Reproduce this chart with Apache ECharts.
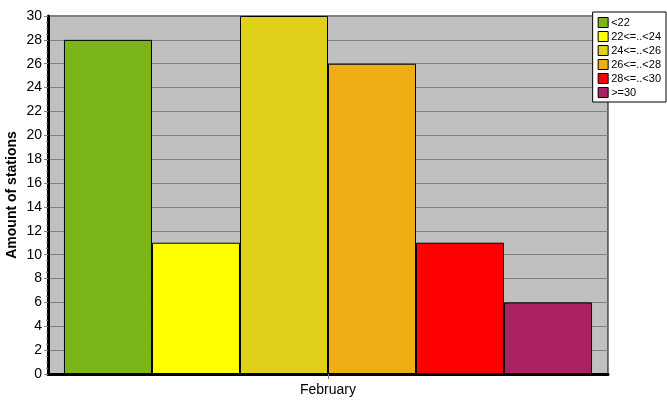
<!DOCTYPE html>
<html>
<head>
<meta charset="utf-8">
<script src="https://cdn.jsdelivr.net/npm/echarts@6/dist/echarts.min.js"></script>
<style>
  html, body { margin: 0; padding: 0; background: #fff; }
  #main { width: 667px; height: 415px; }
</style>
</head>
<body>
<div id="main"></div>
<script>
const categories = ["February"];
const seriesNames = ["<22", "22<=..<24", "24<=..<26", "26<=..<28", "28<=..<30", ">=30"];
const seriesValues = [[28], [11], [30], [26], [11], [6]];
const colors = ["#7CB518", "#FFFF00", "#E0D01A", "#EFAF14", "#FF0000", "#AA2262"];

const chart = echarts.init(document.getElementById("main"), null, { renderer: "canvas" });

const font = "Liberation Sans, Arial, sans-serif";

const option = {
  animation: false,
  textStyle: { fontFamily: font },
  color: colors,
  grid: {
    left: 48,
    right: 59,
    top: 16,
    bottom: 41,
    containLabel: false,
    outerBoundsMode: "none",
    show: true,
    backgroundColor: "#C0C0C0",
    borderColor: "#000",
    borderWidth: 1,
  },
  legend: {
    orient: "vertical",
    right: 1,
    top: 12,
    padding: [5, 5, 4, 5],
    backgroundColor: "#fff",
    borderColor: "#000",
    borderWidth: 1,
    borderRadius: 0,
    itemWidth: 10,
    itemHeight: 10,
    itemGap: 3,
    icon: "rect",
    itemStyle: { borderColor: "#000", borderWidth: 1 },
    textStyle: { fontSize: 11, color: "#000", fontFamily: font, padding: [0, 0, 0, -2] },
    data: seriesNames,
  },
  xAxis: {
    type: "category",
    data: categories,
    axisLine: { lineStyle: { color: "#000", width: 3 } },
    axisTick: { show: true, alignWithLabel: true, length: 5, lineStyle: { color: "#808080" } },
    axisLabel: { fontSize: 14, color: "#000", margin: 9, fontFamily: font },
  },
  yAxis: {
    type: "value",
    min: 0,
    max: 30,
    interval: 2,
    name: "Amount of stations",
    nameLocation: "middle",
    nameGap: 29,
    nameMoveOverlap: false,
    nameTextStyle: { fontSize: 14, fontWeight: "bold", color: "#000", fontFamily: font },
    axisLine: { show: true, lineStyle: { color: "#000", width: 3 } },
    axisTick: { show: true, length: 4, lineStyle: { color: "#808080" } },
    minorTick: { show: true, splitNumber: 4, length: 2, lineStyle: { color: "#808080" } },
    axisLabel: { fontSize: 14, color: "#000", margin: 6, fontFamily: font },
    splitLine: { lineStyle: { color: "#808080", width: 1 } },
  },
  series: seriesNames.map((name, i) => ({
    name: name,
    type: "bar",
    data: seriesValues[i],
    barGap: "0%",
    barCategoryGap: "5.7%",
    itemStyle: { color: colors[i], borderColor: "#000", borderWidth: 1 },
  })),
};

chart.setOption(option);
</script>
</body>
</html>
